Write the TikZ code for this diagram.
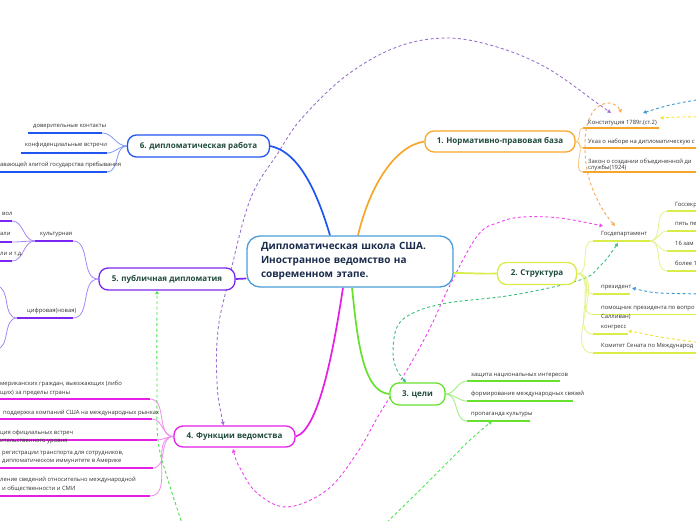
\documentclass[tikz,border=0pt]{standalone}
\usepackage{fontspec}
\setmainfont{Open Sans}
\usetikzlibrary{arrows.meta}
\definecolor{orng}{HTML}{F6A62A}\definecolor{orngl}{HTML}{F9C879}
\definecolor{ygrn}{HTML}{D9EC47}\definecolor{ygrnl}{HTML}{E5F28A}
\definecolor{grn}{HTML}{66E22E}\definecolor{grnl}{HTML}{9BEF7A}
\definecolor{mag}{HTML}{E51FE5}\definecolor{magl}{HTML}{F08AF0}
\definecolor{purp}{HTML}{7A25F2}\definecolor{purpl}{HTML}{A986F5}
\definecolor{blu}{HTML}{1F55F0}\definecolor{blul}{HTML}{7B9BF5}
\definecolor{cblue}{HTML}{4A9DDB}
\definecolor{dpurp}{HTML}{9B72D0}\definecolor{dorng}{HTML}{F7A95A}
\definecolor{dpink}{HTML}{EE45EE}\definecolor{dteal}{HTML}{3BBF7C}
\definecolor{dlime}{HTML}{4CE34C}\definecolor{dblue}{HTML}{3C9AD6}
\definecolor{dyel}{HTML}{F2E23C}
\definecolor{navy}{HTML}{1A2B4C}\definecolor{tealtext}{HTML}{1F4A3C}
\definecolor{subtext}{HTML}{333333}
\pgfdeclarelayer{paper}\pgfdeclarelayer{rellayer}\pgfdeclarelayer{bglayer}
\pgfsetlayers{paper,rellayer,bglayer,main}
\tikzset{
  central/.style={draw=cblue, line width=1.3pt, rounded corners=13pt, fill=white,
    text width=178pt, inner xsep=14pt, inner ysep=0pt, minimum height=51pt, align=left,
    font=\bfseries\fontsize{10}{14}\selectfont, text=navy},
  mainbox/.style={line width=1.3pt, rounded corners=9pt, fill=white, inner sep=0pt,
    font=\bfseries\fontsize{8}{10}\selectfont, text=tealtext},
  st/.style={font=\fontsize{5.85}{7}\selectfont, text=subtext, inner sep=0pt, anchor=base west},
  ul/.style={line width=1.7pt},
  br/.style={line width=0.8pt},
  mline/.style={line width=1.7pt},
  rel/.style={line width=0.9pt, dash pattern=on 3pt off 2.5pt},
  tipe/.style={-{Triangle[length=3.5pt,width=3.5pt]}},
  tipb/.style={{Triangle[length=3.5pt,width=3.5pt]}-{Triangle[length=3.5pt,width=3.5pt]}}
}
\begin{document}
\begin{tikzpicture}[x=1pt,y=-1pt]
\clip (0,0) rectangle (696,520);
\begin{pgfonlayer}{paper}
\fill[white] (0,0) rectangle (696,520);
\end{pgfonlayer}

% central and main nodes
\node[central] (c) at (350,261.5) {Дипломатическая школа США.\\Иностранное ведомство на\\современном этапе.};
\node[mainbox, draw=orng, minimum width=150pt, minimum height=21pt] (n1) at (500,141.5) {1. Нормативно-правовая база};
\node[mainbox, draw=ygrn, minimum width=79pt, minimum height=22pt] (n2) at (537,273.5) {2. Структура};
\node[mainbox, draw=grn, minimum width=55pt, minimum height=22pt] (n3) at (417.5,394) {3. цели};
\node[mainbox, draw=mag, minimum width=121pt, minimum height=21pt] (n4) at (234.5,436.5) {4. Функции ведомства};
\node[mainbox, draw=purp, minimum width=136pt, minimum height=22pt] (n5) at (167,279) {5. публичная дипломатия};
\node[mainbox, draw=blu, minimum width=142pt, minimum height=22pt] (n6) at (198.5,146) {6. дипломатическая работа};

% ---- branch 1 items
\node[st] (k1) at (588,124) {Конституция 1789г.(ст.2)};
\coordinate (k1L) at (583,128); \coordinate (k1R) at (659,128);
\node[st] (k2) at (588,143) {Указ о наборе на дипломатическую с};
\coordinate (k2L) at (583,148); \coordinate (k2R) at (700,148);
\node[st] (k3) at (588,163) {Закон о создании объединенной ди};
\node[st] (k3b) at (588,169.5) {службы(1924)};
\coordinate (k3L) at (583,172); \coordinate (k3R) at (700,172);

% ---- branch 2 items
\node[st] (g1) at (601,235) {Госдепартамент};
\coordinate (g1L) at (593,241); \coordinate (g1R) at (650,241);
\node[st] (g1a) at (675,206) {Госсекр};
\coordinate (g1aL) at (667,211); \coordinate (g1aR) at (700,211);
\node[st] (g1b) at (675,225) {пять пе};
\coordinate (g1bL) at (667,231); \coordinate (g1bR) at (700,231);
\node[st] (g1c) at (675,245) {16 зам};
\coordinate (g1cL) at (667,251); \coordinate (g1cR) at (700,251);
\node[st] (g1d) at (675,265) {более 1};
\coordinate (g1dL) at (667,271); \coordinate (g1dR) at (700,271);
\node[st] (p1) at (601,288) {президент};
\coordinate (p1L) at (593,294); \coordinate (p1R) at (630,294);
\node[st] (p2) at (601,309) {помощник президента по вопро};
\node[st] (p2b) at (601,318) {Салливан)};
\coordinate (p2L) at (593,314.5); \coordinate (p2R) at (700,314.5);
\node[st] (p3) at (601,328) {конгресс};
\coordinate (p3L) at (593,334); \coordinate (p3R) at (628,334);
\node[st] (p4) at (601,347) {Комитет Сената по Международ};
\coordinate (p4L) at (593,353); \coordinate (p4R) at (700,353);

% ---- branch 3 items
\node[st] (t1) at (471,376) {защита национальных интересов};
\coordinate (t1L) at (467,381); \coordinate (t1R) at (560,381);
\node[st] (t2) at (471,395) {формирование международных связей};
\coordinate (t2L) at (467,401); \coordinate (t2R) at (573,401);
\node[st] (t3) at (471,415) {пропаганда культуры};
\coordinate (t3L) at (467,421); \coordinate (t3R) at (530,421);

% ---- branch 4 items
\node[st] (f1) at (0,385) {мериканских граждан, выезжающих (либо};
\node[st] (f1b) at (0,394) {щих) за пределы страны};
\coordinate (f1L) at (-2,399); \coordinate (f1R) at (150,399);
\node[st] (f2) at (3,414) {поддержка компаний США на международных рынках};
\coordinate (f2L) at (-2,419); \coordinate (f2R) at (152,419);
\node[st] (f3) at (0,434) {ция официальных встреч};
\node[st] (f3b) at (0,442) {ительственного уровня};
\coordinate (f3L) at (-2,440); \coordinate (f3R) at (157,440);
\node[st] (f4) at (2,454) {регистрации транспорта для сотрудников,};
\node[st] (f4b) at (2,462) {дипломатическом иммунитете в Америке};
\coordinate (f4L) at (-2,468); \coordinate (f4R) at (153,468);
\node[st] (f5) at (0,481) {ление сведений относительно международной};
\node[st] (f5b) at (2,490) {и общественности и СМИ};
\coordinate (f5L) at (-2,496); \coordinate (f5R) at (150,496);

% ---- branch 5 items
\node[st] (u1) at (40,235) {культурная};
\coordinate (u1L) at (35,241); \coordinate (u1R) at (73,241);
\node[st] (u1a) at (2,215) {вол};
\coordinate (u1aL) at (-2,221); \coordinate (u1aR) at (12,221);
\node[st] (u1b) at (0,235) {али};
\coordinate (u1bL) at (-2,242); \coordinate (u1bR) at (12,242);
\node[st] (u1c) at (0,255) {ли и т.д.};
\coordinate (u1cL) at (-2,261); \coordinate (u1cR) at (12,261);
\node[st] (u2) at (27,312) {цифровая(новая)};
\coordinate (u2L) at (17,318); \coordinate (u2R) at (73,318);
\coordinate (u2a) at (-4,286); \coordinate (u2b) at (-4,349);

% ---- branch 6 items
\node[st] (d1) at (33,127) {доверительные контакты};
\coordinate (d1L) at (28,133); \coordinate (d1R) at (102,133);
\node[st] (d2) at (25,146) {конфиденциальные встречи};
\coordinate (d2L) at (21,153); \coordinate (d2R) at (107,153);
\node[st] (d3) at (0,166) {авающей элитой государства пребывания};
\coordinate (d3L) at (-2,172); \coordinate (d3R) at (107,172);

% relation end points
\coordinate (r1a) at ([xshift=-11pt]n4.north);
\coordinate (r1b) at (611,113);
\coordinate (r2a) at (615,226);
\coordinate (r2b) at (621,113);
\coordinate (r3a) at (233,449);
\coordinate (r3b) at (603,226);
\coordinate (r4a) at (618,243);
\coordinate (r4b) at ([xshift=-11.5pt]n3.north);
\coordinate (r5s) at (183,526);
\coordinate (r5e) at ([xshift=-10pt]n5.south);
\coordinate (r6s) at (383,526);
\coordinate (r6e) at (492,421);
\coordinate (r7s) at (702,99);  \coordinate (r7e) at (643,113);
\coordinate (r8s) at (702,294); \coordinate (r8e) at (632,288);
\coordinate (r9s) at (702,117); \coordinate (r9e) at (660,118);
\coordinate (r10s) at (702,343); \coordinate (r10e) at (628,331);

\begin{pgfonlayer}{rellayer}
\draw[rel, dpurp, tipb] plot[smooth, tension=0.6] coordinates {(r1a) (217,382) (218,330) (228,283) (250,200) (278,153) (302,118) (347,75) (397,47) (447,38) (497,47) (547,68) (597,103) (r1b)};
\draw[rel, dorng, tipb] plot[smooth, tension=0.6] coordinates {(r2a) (603,210) (593,190) (587,170) (585,150) (586,130) (591,115) (599,106) (610,103) (618,107) (r2b)};
\draw[rel, dpink, tipb] plot[smooth, tension=0.6] coordinates {(r3a) (240,468) (257,493) (287,507) (327,490) (357,453) (380,413) (407,370) (430,328) (450,285) (478,235) (500,222) (523,217) (560,218) (r3b)};
\draw[rel, dteal, tipb] plot[smooth, tension=0.6] coordinates {(r4a) (600,266) (580,280) (513,295) (447,303) (413,313) (397,327) (393,353) (397,370) (r4b)};
\draw[rel, dlime, tipe] plot[smooth, tension=0.6] coordinates {(r5s) (168,480) (158,440) (157,380) (r5e)};
\draw[rel, dlime, tipe] plot[smooth, tension=0.6] coordinates {(r6s) (420,490) (453,457) (470,440) (r6e)};
\draw[rel, dblue, tipe] plot[smooth, tension=0.6] coordinates {(r7s) (670,105) (r7e)};
\draw[rel, dblue, tipe] plot[smooth, tension=0.6] coordinates {(r8s) (660,293) (645,291) (r8e)};
\draw[rel, dyel, tipe] plot[smooth, tension=0.6] coordinates {(r9s) (680,117) (r9e)};
\draw[rel, dyel, tipe] plot[smooth, tension=0.6] coordinates {(r10s) (660,337) (640,333) (r10e)};
\end{pgfonlayer}

\begin{pgfonlayer}{bglayer}
% main connectors
\draw[mline, blu] ([xshift=-20pt]c.north) .. controls (318,195) and (300,152) .. (n6.east);
\draw[mline, orng] ([xshift=8pt]c.north) .. controls (370,185) and (395,146) .. (n1.west);
\draw[mline, ygrn] ([yshift=-11.5pt]c.east) .. controls (475,273) and (478,274) .. (n2.west);
\draw[mline, grn] ([xshift=2pt]c.south) .. controls (357,335) and (362,392) .. (n3.west);
\draw[mline, mag] ([xshift=-7pt]c.south) .. controls (335,340) and (320,430) .. (n4.east);
\draw[mline, purp] ([yshift=-17pt]c.west) -- (n5.east);
% underlines
\foreach \a in {k1,k2,k3} \draw[ul, orng] (\a L) -- (\a R);
\foreach \a in {g1,g1a,g1b,g1c,g1d,p1,p2,p3,p4} \draw[ul, ygrn] (\a L) -- (\a R);
\foreach \a in {t1,t2,t3} \draw[ul, grn] (\a L) -- (\a R);
\foreach \a in {f1,f2,f3,f4,f5} \draw[ul, mag] (\a L) -- (\a R);
\foreach \a in {u1,u1a,u1b,u1c,u2} \draw[ul, purp] (\a L) -- (\a R);
\foreach \a in {d1,d2,d3} \draw[ul, blu] (\a L) -- (\a R);
% branch connectors
\foreach \a in {k1,k2,k3} \draw[br, orngl] (n1.east) to[out=0,in=180] (\a L);
\foreach \a in {g1,p1,p2,p3,p4} \draw[br, ygrnl] (n2.east) to[out=0,in=180] (\a L);
\foreach \a in {g1a,g1b,g1c,g1d} \draw[br, ygrnl] (g1R) to[out=0,in=180] (\a L);
\foreach \a in {t1,t2,t3} \draw[br, grnl] (n3.east) to[out=0,in=180] (\a L);
\foreach \a in {f1,f2,f3,f4,f5} \draw[br, magl] (n4.west) to[out=180,in=0] (\a R);
\foreach \a in {u1,u2} \draw[br, purpl] (n5.west) to[out=180,in=0] (\a R);
\foreach \a in {u1a,u1b,u1c} \draw[br, purpl] (u1L) to[out=180,in=0] (\a R);
\draw[br, purpl] (u2L) to[out=180,in=0] (u2a);
\draw[br, purpl] (u2L) to[out=180,in=0] (u2b);
\foreach \a in {d1,d2,d3} \draw[br, blul] (n6.west) to[out=180,in=0] (\a R);
\end{pgfonlayer}
\end{tikzpicture}
\end{document}
